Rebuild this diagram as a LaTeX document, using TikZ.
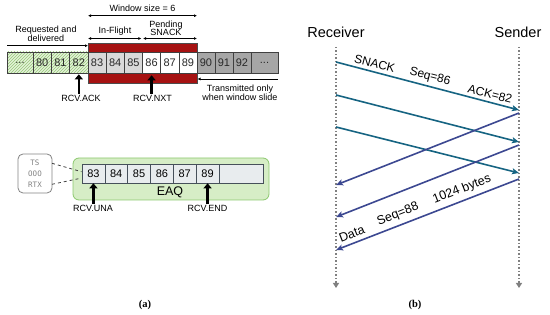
\documentclass[tikz,border=0pt]{standalone}
\usepackage{fontspec}
\setmainfont{Liberation Sans}
\newfontfamily\monof{DejaVu Sans Mono}
\newfontfamily\serifb{Liberation Serif}
\usetikzlibrary{arrows.meta,patterns}
\definecolor{cellline}{RGB}{64,64,64}
\definecolor{celltext}{RGB}{40,40,40}
\definecolor{hatchfill}{RGB}{228,242,218}
\definecolor{hatchline}{RGB}{150,200,120}
\definecolor{lgray}{RGB}{217,217,217}
\definecolor{dgray}{RGB}{166,166,166}
\definecolor{winred}{RGB}{166,18,18}
\definecolor{eaqfill}{RGB}{214,237,198}
\definecolor{eaqline}{RGB}{140,200,110}
\definecolor{eaqcell}{RGB}{232,236,238}
\definecolor{eaqcline}{RGB}{70,80,90}
\definecolor{tsgray}{RGB}{130,130,130}
\definecolor{tealc}{RGB}{22,100,130}
\definecolor{bluec}{RGB}{60,72,145}
\definecolor{lifegray}{RGB}{128,128,128}
\tikzset{
  cell/.style={draw=cellline, line width=0.6pt, minimum height=21pt, inner sep=0pt,
    font=\fontsize{11}{11}\selectfont, text=celltext},
  hatch/.style={preaction={fill=hatchfill}, pattern=north east lines, pattern color=hatchline},
  ecell/.style={draw=eaqcline, line width=0.6pt, fill=eaqcell, minimum height=18.5pt,
    minimum width=22.83pt, inner sep=0pt, font=\fontsize{11}{11}\selectfont, text=black},
  lbl/.style={font=\fontsize{9}{10}\selectfont, text=black, inner sep=1pt, align=center},
  dimarrow/.style={line width=0.6pt, {Latex[length=3pt,width=3pt]}-{Latex[length=3pt,width=3pt]}},
  onearrow/.style={line width=0.6pt, -{Latex[length=3pt,width=3pt]}},
  rcvarrow/.style={line width=2.6pt, -{Triangle[length=5pt,width=8pt]}},
  tealarrow/.style={draw=tealc, line width=1.6pt, -{Stealth[length=7pt,width=6pt,inset=1.5pt]}},
  bluearrow/.style={draw=bluec, line width=1.6pt, -{Stealth[length=7pt,width=6pt,inset=1.5pt]}},
  tlbl/.style={font=\fontsize{12}{12}\selectfont, text=black, sloped, above=0pt},
  blbl/.style={font=\fontsize{12.5}{12.5}\selectfont, text=black, sloped, above=1pt},
  lifeline/.style={draw=lifegray, line width=1.5pt, dotted, -{Triangle[length=5pt,width=6pt]}},
  capt/.style={font=\serifb\bfseries\fontsize{10.5}{10.5}\selectfont},
}
\begin{document}
\begin{tikzpicture}[x=1pt,y=-1pt]
\useasboundingbox (0,0) rectangle (550,315);
% ---------------- panel (a): top -----------------
\node[draw=black!70, line width=0.5pt, fill=winred, minimum width=109pt, minimum height=40pt, inner sep=0pt] (win) at (142.5,63) {};
\node[cell,hatch,minimum width=26pt] (cd1) at (20,62.5) {...};
\node[cell,hatch,minimum width=18.33pt] (c80) at (42.17,62.5) {80};
\node[cell,hatch,minimum width=18.33pt] (c81) at (60.5,62.5) {81};
\node[cell,hatch,minimum width=18.33pt] (c82) at (78.83,62.5) {82};
\node[cell,fill=lgray,minimum width=18.17pt] (c83) at (97.08,62.5) {83};
\node[cell,fill=lgray,minimum width=18.17pt] (c84) at (115.25,62.5) {84};
\node[cell,fill=lgray,minimum width=18.17pt] (c85) at (133.42,62.5) {85};
\node[cell,fill=white,minimum width=18.17pt] (c86) at (151.58,62.5) {86};
\node[cell,fill=white,minimum width=18.17pt] (c87) at (169.75,62.5) {87};
\node[cell,fill=white,minimum width=18.17pt] (c89) at (187.92,62.5) {89};
\node[cell,fill=dgray,minimum width=18pt] (c90) at (206,62.5) {90};
\node[cell,fill=dgray,minimum width=18pt] (c91) at (224,62.5) {91};
\node[cell,fill=dgray,minimum width=18pt] (c92) at (242,62.5) {92};
\node[cell,fill=dgray,minimum width=27pt] (cd2) at (264.5,62.5) {...};

% dimension arrows
\coordinate (ws1) at (88,15.7);
\coordinate (ws2) at (197,15.7);
\draw[dimarrow] (ws1) -- (ws2);
\node[lbl] (wslbl) at (142.5,8.5) {Window size = 6};
\coordinate (if1) at (88,38.5);
\coordinate (if2) at (141.3,38.5);
\coordinate (pd1) at (143,38.5);
\coordinate (pd2) at (197,38.5);
\draw[dimarrow] (if1) -- (if2);
\draw[dimarrow] (pd1) -- (pd2);
\node[lbl] (iflbl) at (115,31.5) {In-Flight};
\node[lbl] (pdlbl) at (166,28.5) {Pending\\[-2pt]SNACK};
\coordinate (rq1) at (7,45.7);
\coordinate (rq2) at (88,45.7);
\draw[onearrow] (rq1) -- (rq2);
\node[lbl] (rqlbl) at (46,34) {Requested and\\[-1pt]delivered};
\coordinate (tr1) at (278,79);
\coordinate (tr2) at (197.5,79);
\draw[onearrow] (tr1) -- (tr2);
\node[lbl] (trlbl) at (240,93) {Transmitted only\\[-1pt]when window slide};

% RCV pointers
\node[lbl] (lack) at (81,98.5) {RCV.ACK};
\node[lbl] (lnxt) at (152.5,98.5) {RCV.NXT};
\draw[rcvarrow] (c82.south |- lack.north) -- ([yshift=-1pt]c82.south);
\draw[rcvarrow] (c86.south |- lnxt.north) -- ([yshift=-2pt]c86.south);

% ---------------- panel (a): EAQ -----------------
\node[draw=eaqline, line width=0.8pt, fill=eaqfill, rounded corners=6pt, minimum width=196pt, minimum height=42pt, inner sep=0pt] (eaq) at (171,179) {};
\node[ecell] (b83) at (93.42,173.75) {83};
\node[ecell] (b84) at (116.25,173.75) {84};
\node[ecell] (b85) at (139.08,173.75) {85};
\node[ecell] (b86) at (161.92,173.75) {86};
\node[ecell] (b87) at (184.75,173.75) {87};
\node[ecell] (b89) at (207.58,173.75) {89};
\node[ecell, minimum width=44pt] (bE) at (241,173.75) {};
\node[font=\fontsize{12.5}{12.5}\selectfont, inner sep=0pt] (eaqlbl) at (170,192.5) {EAQ};
\node[lbl] (luna) at (93,208.5) {RCV.UNA};
\node[lbl] (lend) at (207.5,208.5) {RCV.END};
\draw[rcvarrow] (b83.south |- luna.north) -- (b83.south);
\draw[rcvarrow] (b89.south |- lend.north) -- (b89.south);

\node[draw=tsgray, line width=0.8pt, rounded corners=5pt, minimum width=34pt, minimum height=39pt, inner sep=0pt] (tsbox) at (35,173.5) {};
\node[font=\monof\fontsize{7.5}{11}\selectfont, text=tsgray, align=center, inner sep=0pt] (tstext) at (35,174) {TS\\OOO\\RTX};
\coordinate (dsa1) at (52,163.3);
\coordinate (dsa2) at (81.5,171.7);
\coordinate (dsb1) at (52,184.3);
\coordinate (dsb2) at (80.5,178.3);
\draw[dashed, line width=0.8pt, black!75] (dsa1) -- (dsa2);
\draw[dashed, line width=0.8pt, black!75] (dsb1) -- (dsb2);

\node[capt] (capa) at (145,305) {(a)};

% ---------------- panel (b) -----------------
\node[font=\fontsize{14.5}{14.5}\selectfont, inner sep=0pt] (recv) at (336,32.5) {Receiver};
\node[font=\fontsize{14.5}{14.5}\selectfont, inner sep=0pt] (send) at (518,32.5) {Sender};
\coordinate (rtop) at (336,47);
\coordinate (rbot) at (336,288);
\coordinate (stop) at (519,47);
\coordinate (sbot) at (519,288);
\draw[lifeline] (rtop) -- (rbot);
\draw[lifeline] (stop) -- (sbot);

\coordinate (tR1) at (336,62);  \coordinate (tS1) at (519,110);
\coordinate (tR2) at (336,95);  \coordinate (tS2) at (519,142);
\coordinate (tR3) at (336,127); \coordinate (tS3) at (519,173);
\coordinate (bS1) at (519,113); \coordinate (bR1) at (336,185);
\coordinate (bS2) at (519,145); \coordinate (bR2) at (336,217);
\coordinate (bS3) at (519,179); \coordinate (bR3) at (336,250);

\draw[tealarrow] (tR1) -- node[tlbl,pos=0.2] (lsn) {SNACK}
                          node[tlbl,pos=0.5] (lsq) {Seq=86}
                          node[tlbl,pos=0.83] (lak) {ACK=82} (tS1);
\draw[tealarrow] (tR2) -- (tS2);
\draw[tealarrow] (tR3) -- (tS3);
\draw[bluearrow] (bS1) -- (bR1);
\draw[bluearrow] (bS2) -- (bR2);
\draw[bluearrow] (bS3) -- node[blbl,pos=0.29] (lby) {1024 bytes}
                          node[blbl,pos=0.64] (lsq2) {Seq=88}
                          node[blbl,pos=0.895] (lda) {Data} (bR3);

\node[capt] (capb) at (415,305) {(b)};
\end{tikzpicture}
\end{document}
